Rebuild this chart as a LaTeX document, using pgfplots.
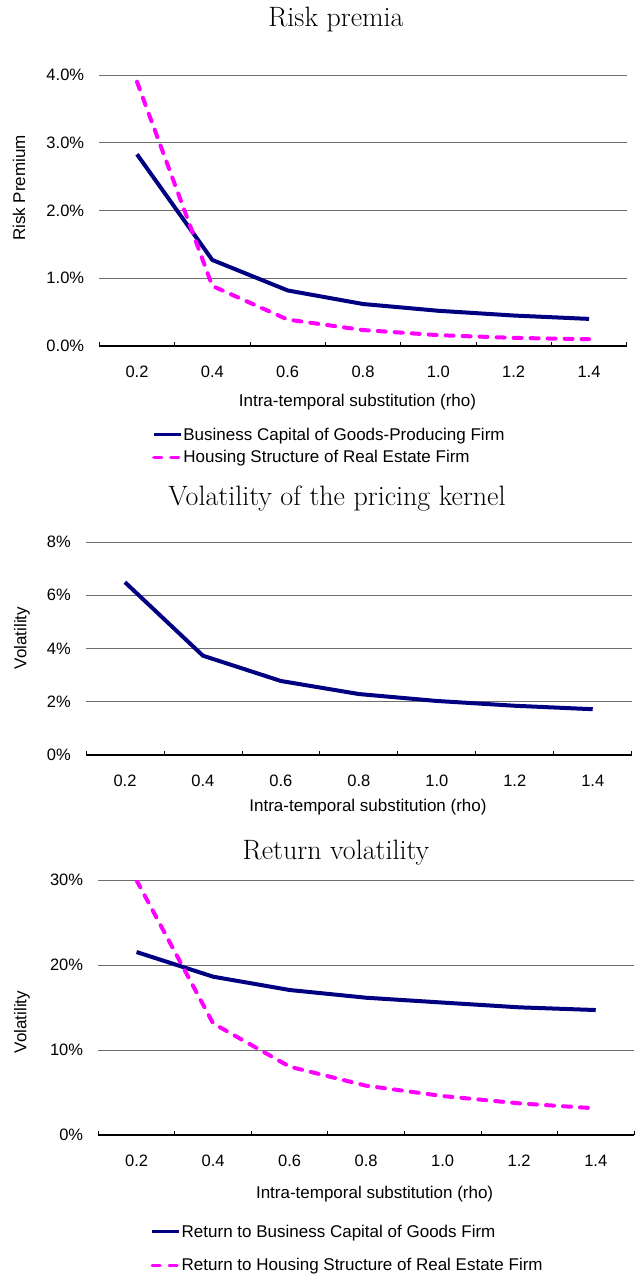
\documentclass[border=0pt]{standalone}
\usepackage{fontspec}
\usepackage{pgfplots}
\pgfplotsset{compat=1.18}
\newfontfamily\arial{Liberation Sans}
\definecolor{navy}{RGB}{0,0,128}
\definecolor{mag}{RGB}{255,0,255}
\definecolor{gridc}{RGB}{110,110,110}
\newcommand{\lblfont}{\arial\fontsize{17}{20}\selectfont}
\newcommand{\tickfont}{\arial\fontsize{16.5}{19}\selectfont}
\newcommand{\ttlfont}{\fontsize{28}{32}\selectfont}

\pgfplotsset{
 panel/.style={
  scale only axis,
  axis lines*=left,
  y axis line style={draw=none},
  x axis line style={line width=1.2pt, black},
  xmin=-0.5, xmax=6.5, ymin=0,
  xtick={0,...,6}, xticklabels={0.2,0.4,0.6,0.8,1.0,1.2,1.4},
  minor xtick={-0.5,0.5,...,6.5},
  major tick length=0pt, minor tick length=4.3pt,
  tick style={black, line width=0.8pt},
  ymajorgrids, major grid style={gridc, line width=1pt},
  ticklabel style={font=\tickfont, inner sep=0pt},
  xticklabel style={anchor=north, yshift=-20pt},
  yticklabel style={anchor=east, xshift=-15pt},
  legend cell align=left,
  legend image code/.code={\draw[##1, line width=3.2pt] (0pt,0pt) -- (27pt,0pt);},
 },
 bus/.style={navy, solid, line width=4pt, line join=round},
 hou/.style={mag, line width=4pt, line join=round, line cap=round, dash pattern=on 8pt off 9pt},
}

\begin{document}
\begin{tikzpicture}[x=1pt,y=1pt]
\useasboundingbox (0,0) rectangle (635,-1277);

% ---------- Panel 1 ----------
\node[font=\ttlfont, anchor=base] at (336,-26) {Risk premia};
\begin{axis}[panel,
  at={(99.3pt,-346pt)}, anchor=south west,
  width=527.4pt, height=271pt,
  ymax=4, ytick={0,1,2,3,4},
  yticklabels={0.0\%,1.0\%,2.0\%,3.0\%,4.0\%},
  legend style={draw=none, fill=none, at={(0.0999,-0.297)}, anchor=north west,
    font=\lblfont, row sep=7pt, inner sep=0pt, nodes={inner sep=1pt},
    /tikz/every even column/.append style={column sep=1pt}},
]
\addplot[bus] coordinates {(0,2.83) (1,1.27) (2,0.82) (3,0.62) (4,0.52) (5,0.45) (6,0.40)};
\addlegendentry{Business Capital of Goods-Producing Firm}
\addplot[hou] coordinates {(0,3.90) (1,0.886) (2,0.39) (3,0.236) (4,0.16) (5,0.12) (6,0.10)};
\addlegendentry{Housing Structure of Real Estate Firm}
\end{axis}
\node[font=\lblfont, anchor=base] at (357.5,-406.7) {Intra-temporal substitution (rho)};
\node[font=\lblfont, rotate=90] at (19,-188) {Risk Premium};

% ---------- Panel 2 ----------
\node[font=\ttlfont, anchor=base] at (337,-505) {Volatility of the pricing kernel};
\begin{axis}[panel,
  at={(86pt,-755pt)}, anchor=south west,
  width=545.7pt, height=213pt,
  ymax=8, ytick={0,2,4,6,8},
  yticklabels={0\%,2\%,4\%,6\%,8\%},
]
\addplot[bus] coordinates {(0,6.49) (1,3.73) (2,2.78) (3,2.29) (4,2.03) (5,1.85) (6,1.72)};
\end{axis}
\node[font=\lblfont, anchor=base] at (368,-811.7) {Intra-temporal substitution (rho)};
\node[font=\lblfont, rotate=90] at (22,-638) {Volatility};

% ---------- Panel 3 ----------
\node[font=\ttlfont, anchor=base] at (336,-859.3) {Return volatility};
\begin{axis}[panel,
  at={(98.3pt,-1135pt)}, anchor=south west,
  width=535.7pt, height=254.7pt,
  ymax=30, ytick={0,10,20,30},
  yticklabels={0\%,10\%,20\%,30\%},
  legend style={draw=none, fill=none, at={(0.0971,-0.3475)}, anchor=north west,
    font=\lblfont, row sep=18pt, inner sep=0pt, nodes={inner sep=1pt},
    /tikz/every even column/.append style={column sep=1pt}},
]
\addplot[bus] coordinates {(0,21.55) (1,18.65) (2,17.08) (3,16.17) (4,15.6) (5,15.04) (6,14.72)};
\addlegendentry{Return to Business Capital of Goods Firm}
\addplot[hou] coordinates {(0,30.0) (1,13.15) (2,8.05) (3,5.81) (4,4.59) (5,3.73) (6,3.14)};
\addlegendentry{Return to Housing Structure of Real Estate Firm}
\end{axis}
\node[font=\lblfont, anchor=base] at (374.6,-1198.3) {Intra-temporal substitution (rho)};
\node[font=\lblfont, rotate=90] at (22,-1022) {Volatility};
\end{tikzpicture}
\end{document}
